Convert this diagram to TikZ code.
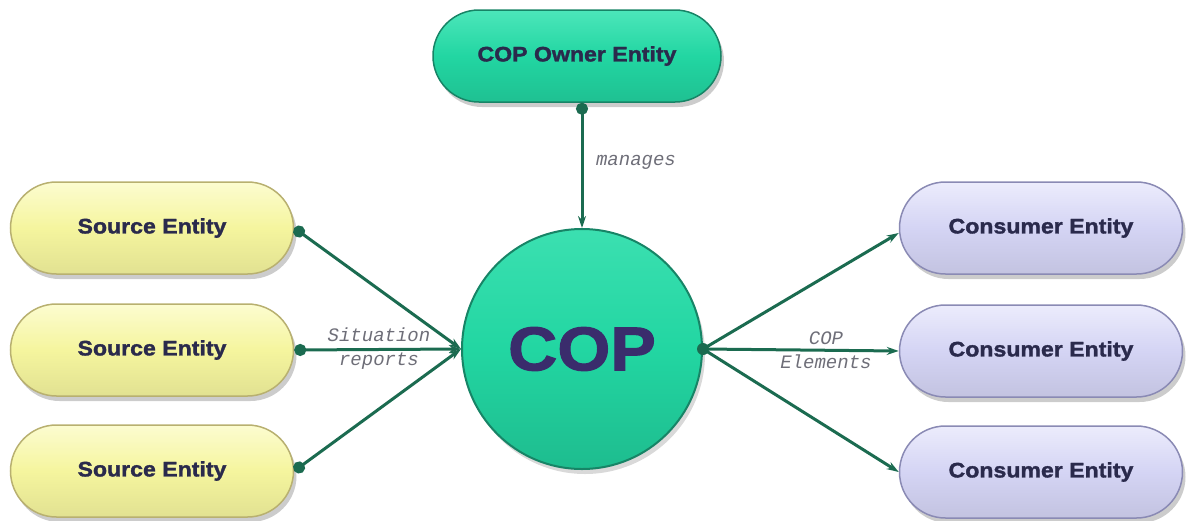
\documentclass[tikz,border=0pt]{standalone}
\usepackage{fontspec}
\setmainfont{Liberation Sans}
\newfontfamily\labfont[FakeStretch=1.1,FakeBold=1.6]{Liberation Sans Bold}
\newfontfamily\edgefont{Liberation Mono}
\usetikzlibrary{shapes.misc,arrows.meta,shadows}
\definecolor{tealfill}{HTML}{22D6A2}
\definecolor{tealtop}{HTML}{4CE6BA}
\definecolor{tealedge}{HTML}{178466}
\definecolor{srcfill}{HTML}{F5F59E}
\definecolor{srctop}{HTML}{FCFCD0}
\definecolor{srcedge}{HTML}{B8B070}
\definecolor{confill}{HTML}{D4D4F4}
\definecolor{contop}{HTML}{ECECFC}
\definecolor{conedge}{HTML}{8A8AB4}
\definecolor{linkcol}{HTML}{1B6B50}
\definecolor{labtext}{HTML}{2A2A4C}
\definecolor{coptext}{HTML}{3A2C6C}
\definecolor{edgetext}{HTML}{6E6E78}
\begin{document}
\begin{tikzpicture}[x=1pt,y=-1pt,
  pill/.style={rounded rectangle, minimum width=283pt, minimum height=92pt,
    line width=1.5pt, inner sep=0pt,
    drop shadow={opacity=0.4, shadow xshift=3pt, shadow yshift=-5pt},
    font=\labfont\fontsize{21}{24}\selectfont, text=labtext},
  srcbox/.style={pill, draw=srcedge, top color=srctop, bottom color=srcfill!92!black, middle color=srcfill},
  conbox/.style={pill, draw=conedge, top color=contop, bottom color=confill!92!black, middle color=confill},
  ownbox/.style={pill, minimum width=288pt, draw=tealedge, top color=tealtop, bottom color=tealfill!90!black, middle color=tealfill},
  copcirc/.style={circle, minimum size=240pt, inner sep=0pt, line width=2pt, draw=tealedge,
    top color=tealtop!60!tealfill, bottom color=tealfill!88!black, middle color=tealfill,
    drop shadow={opacity=0.3, shadow xshift=3pt, shadow yshift=-5pt},
    font=\labfont\fontsize{62}{70}\selectfont, text=coptext},
  linkin/.style={draw=linkcol, line width=3pt, {Circle[length=12pt]}-{Stealth[length=12pt,width=8pt]}},
  linkout/.style={draw=linkcol, line width=3pt, -{Stealth[length=12pt,width=8pt]}},
  elabel/.style={font=\edgefont\itshape\fontsize{19}{24}\selectfont, text=edgetext, align=center}
]
\useasboundingbox (0,0) rectangle (1187,520);
\node[ownbox] (owner) at (577,56) {COP Owner Entity};
\node[copcirc] (cop) at (582,349) {COP};
\node[srcbox] (s1) at (152,228) {Source Entity};
\node[srcbox] (s2) at (152,350) {Source Entity};
\node[srcbox] (s3) at (152,471) {Source Entity};
\node[conbox] (c1) at (1041,228) {Consumer Entity};
\node[conbox] (c2) at (1041,351) {Consumer Entity};
\node[conbox] (c3) at (1041,472) {Consumer Entity};
\coordinate (odot) at (owner.south -| cop.north);
\draw[linkin] (odot) -- (cop.north);
\draw[linkin] (s1.east) -- (cop.west);
\draw[linkin] (s2.east) -- (cop.west);
\draw[linkin] (s3.east) -- (cop.west);
\fill[linkcol] (cop.east) circle (6pt);
\draw[linkout] (cop.east) -- ([yshift=-5pt]c1.west);
\draw[linkout] (cop.east) -- (c2.west);
\draw[linkout] (cop.east) -- (c3.west);
\node[elabel] (lman) at (636,162) {manages};
\node[elabel] (lsit) at (379,349) {Situation\\reports};
\node[elabel] (lcop) at (826,350) {COP\\Elements};
\end{tikzpicture}
\end{document}
